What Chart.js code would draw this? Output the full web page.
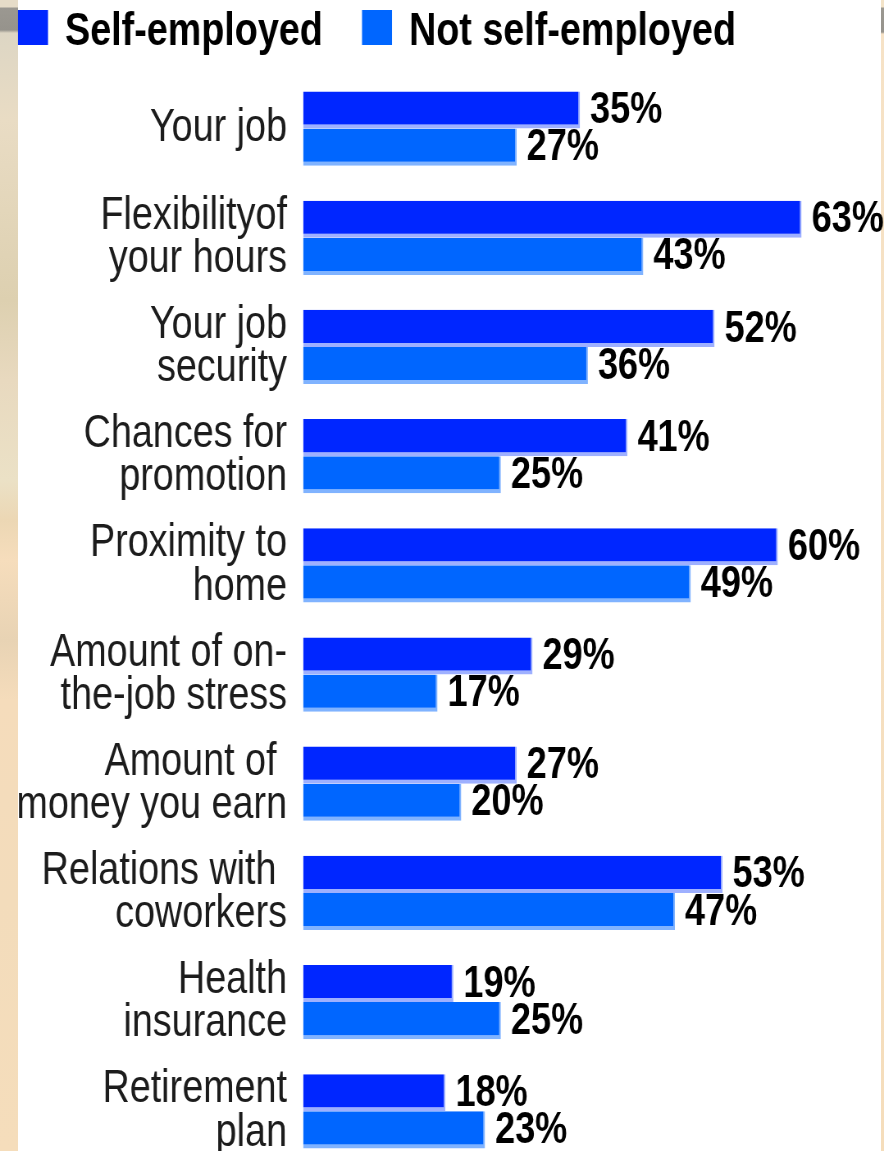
<!DOCTYPE html>
<html>
<head>
<meta charset="utf-8">
<script src="https://cdn.jsdelivr.net/npm/chart.js@4/dist/chart.umd.min.js"></script>
<style>
  html, body { margin: 0; padding: 0; background: #fff; overflow: hidden; }
  body { width: 884px; height: 1151px; position: relative; }
  .edge { position: absolute; top: 0; height: 1151px; }
  .edge-left {
    left: 0; width: 18px;
    background: linear-gradient(to bottom,
      #e6dcc8 0px, #e6dcc8 7px, #9b9891 8px, #96938c 30px, #ddd6c4 33px,
      #e9dcc4 120px, #ddd0b0 300px, #e8d9bf 380px, #ebe1c6 480px,
      #ecd7b4 520px, #f6ddbc 560px, #e8d3b4 640px, #f5dcbb 700px,
      #f3dcbb 900px, #f5ddbb 1151px);
  }
  .edge-right {
    right: 0; width: 3px;
    background: linear-gradient(to bottom, #f3e3c8 0px, #f3e3c8 7px, #9b9891 8px, #96938c 32px, #f6e2c6 34px, #f5ddbb 1151px);
  }
  #chart { position: absolute; top: 0; left: 0; }
</style>
</head>
<body>
<div class="edge edge-left"></div>
<div class="edge edge-right"></div>
<!-- drawn 1078 wide and shown 884 wide: the type comes out condensed -->
<canvas id="chart" width="1078" height="1207" style="width:884px;height:1207px"></canvas>
<script>
const categories = [
  'Your job',
  ['Flexibilityof', 'your hours'],
  ['Your job', 'security'],
  ['Chances for', 'promotion'],
  ['Proximity to', 'home'],
  ['Amount of on-', 'the-job stress'],
  ['Amount of ', 'money you earn'],
  ['Relations with ', 'coworkers'],
  ['Health', 'insurance'],
  ['Retirement', 'plan'],
];
const selfEmployed = [35, 63, 52, 41, 60, 29, 27, 53, 19, 18];
const notSelfEmployed = [27, 43, 36, 25, 49, 17, 20, 47, 25, 23];
const seriesNames = ['Self-employed', 'Not self-employed'];

const FONT = "'Liberation Sans', Arial, sans-serif";
const SQUEEZE = 884 / 1078; // horizontal display scale of the canvas
const px = v => v / SQUEEZE;  // screen px -> canvas px (horizontal)

// percentage printed just past the end of each bar
const valueLabels = {
  id: 'valueLabels',
  afterDatasetsDraw(chart) {
    const ctx = chart.ctx;
    ctx.save();
    ctx.font = `bold 44px ${FONT}`;
    ctx.fillStyle = '#000';
    ctx.textAlign = 'left';
    ctx.textBaseline = 'middle';
    chart.data.datasets.forEach((ds, i) => {
      chart.getDatasetMeta(i).data.forEach((bar, j) => {
        ctx.fillText(ds.data[j] + '%', bar.x + px(10), bar.y + 1);
      });
    });
    ctx.restore();
  }
};

// square swatches + names across the top
const topLegend = {
  id: 'topLegend',
  afterDraw(chart) {
    const ctx = chart.ctx;
    const xs = [18, 362];
    ctx.save();
    ctx.font = `bold 46px ${FONT}`;
    ctx.textBaseline = 'alphabetic';
    ctx.textAlign = 'left';
    chart.data.datasets.forEach((ds, i) => {
      ctx.fillStyle = ds.backgroundColor;
      ctx.fillRect(px(xs[i]), 10, px(30), 35);
      ctx.fillStyle = '#000';
      ctx.fillText(ds.label, px(xs[i] + 47), 45);
    });
    ctx.restore();
  }
};

new Chart(document.getElementById('chart'), {
  type: 'bar',
  data: {
    labels: categories,
    datasets: [
      {
        label: seriesNames[0],
        data: selfEmployed,
        backgroundColor: '#0026ff',
        borderColor: '#9eb0ff',
        borderWidth: { top: 0, bottom: 4, left: 0, right: 2 },
        borderSkipped: false,
      },
      {
        label: seriesNames[1],
        data: notSelfEmployed,
        backgroundColor: '#0066ff',
        borderColor: '#80b3ff',
        borderWidth: { top: 0, bottom: 4, left: 0, right: 2 },
        borderSkipped: false,
      },
    ],
  },
  options: {
    indexAxis: 'y',
    responsive: false,
    animation: false,
    devicePixelRatio: 1,
    categoryPercentage: 0.68,
    barPercentage: 1.0,
    layout: { padding: { top: 74, right: px(27), bottom: 0, left: 0 } },
    plugins: {
      legend: { display: false },
      tooltip: { enabled: false },
    },
    scales: {
      x: {
        min: 0, max: 70,
        display: false,
        grid: { display: false },
      },
      y: {
        grid: { display: false, drawTicks: false },
        border: { display: false },
        afterFit(scale) { scale.width = px(303); },
        ticks: {
          padding: px(16),
          color: '#1c1c1c',
          font: { family: FONT, size: 46, lineHeight: 0.94 },
        },
      },
    },
  },
  plugins: [valueLabels, topLegend],
});
</script>
</body>
</html>
